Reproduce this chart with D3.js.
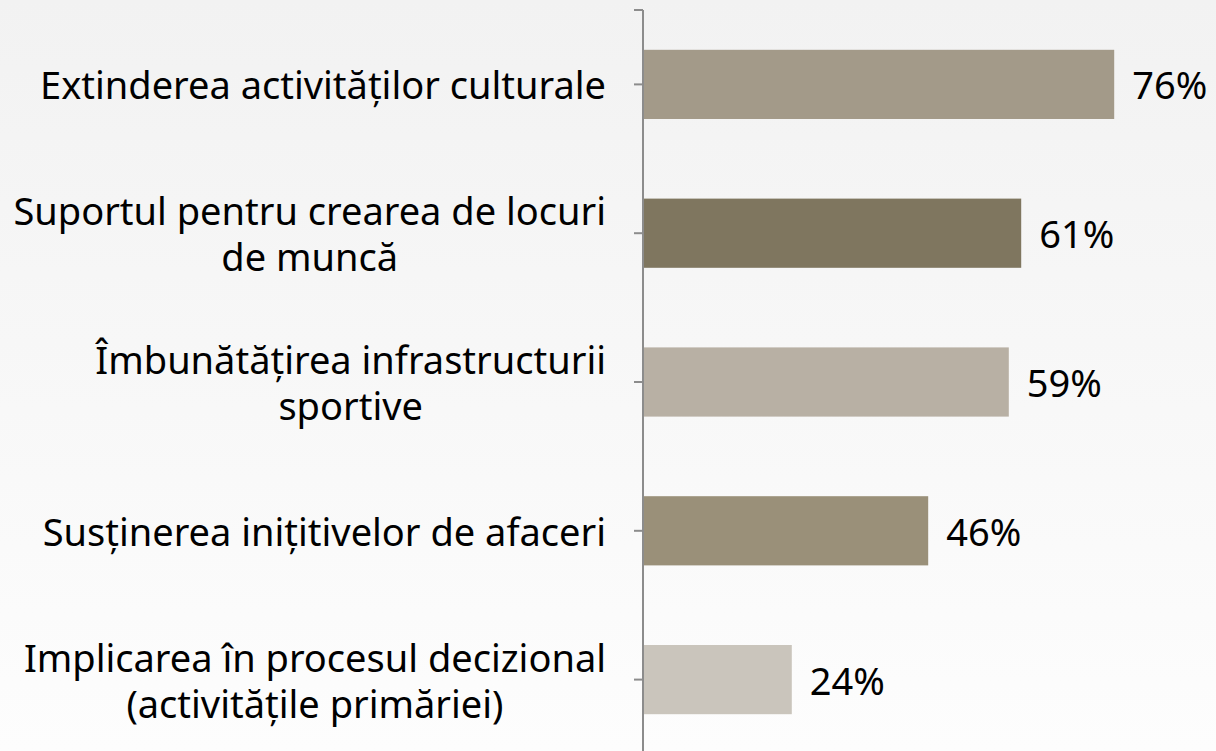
<!DOCTYPE html>
<html>
<head>
<meta charset="utf-8">
<script src="https://cdn.jsdelivr.net/npm/d3@7"></script>
<style>
	html, body { margin: 0; padding: 0; }
	body { width: 1216px; height: 751px; overflow: hidden; }
	text { font-family: "Noto Sans", "Open Sans", sans-serif; fill: #000; }
</style>
</head>
<body>
<div id="chart"></div>
<script>
'use strict';

// ---------- data ----------
const categories = [
	["Extinderea activităților culturale"],
	["Suportul pentru crearea de locuri", "de muncă"],
	["Îmbunătățirea infrastructurii", "sportive"],
	["Susținerea inițitivelor de afaceri"],
	["Implicarea în procesul decizional", "(activitățile primăriei)"]
];
const values     = [76, 61, 59, 46, 24];
const barColors  = ["#a39a89", "#7f765f", "#b8b0a4", "#9a9079", "#cac5bc"];


const drawChart = () =>
{
	const W = 1216, H = 751;
	const axisX = 643;

	const svg = d3.select("#chart")
		.append("svg")
		.attr("width", W)
		.attr("height", H);

	const grad = svg.append("defs").append("linearGradient")
		.attr("id", "bg")
		.attr("x1", 0).attr("y1", 0).attr("x2", 0).attr("y2", 1);
	grad.append("stop").attr("offset", "0%").attr("stop-color", "#f2f2f2");
	grad.append("stop").attr("offset", "100%").attr("stop-color", "#fdfdfd");

	svg.append("rect")
		.attr("width", W).attr("height", H)
		.attr("fill", "url(#bg)");

	const ids = categories.map((c, i) => i);
	const y = d3.scaleBand().domain(ids).range([10, 754]).paddingInner(0.535).paddingOuter(0.2675);
	const x = d3.scaleLinear().domain([0, 100]).range([axisX, axisX + 620]);

	// bars
	svg.selectAll(".bar")
		.data(values)
		.enter()
			.append("rect")
			.attr("class", "bar")
			.attr("x", x(0))
			.attr("y", (d, i) => y(i))
			.attr("width", d => x(d) - x(0))
			.attr("height", y.bandwidth())
			.attr("fill", (d, i) => barColors[i]);

	// axis line + ticks at category centers
	const axis = svg.append("g");
	axis.append("line")
		.attr("x1", axisX).attr("x2", axisX)
		.attr("y1", 10).attr("y2", H + 5)
		.attr("stroke", "#8c8c8c").attr("stroke-width", 2);
	axis.append("line")
		.attr("x1", axisX - 9).attr("x2", axisX)
		.attr("y1", 10).attr("y2", 10)
		.attr("stroke", "#8c8c8c").attr("stroke-width", 2);
	axis.selectAll(".tick")
		.data(ids)
		.enter()
			.append("line")
			.attr("x1", axisX - 9).attr("x2", axisX)
			.attr("y1", i => y(i) + y.bandwidth() / 2)
			.attr("y2", i => y(i) + y.bandwidth() / 2)
			.attr("stroke", "#8c8c8c").attr("stroke-width", 2);

	// category labels: one text per category, lines as tspans, block centred
	const right = 606, lineH = 46, fs = 38;
	categories.forEach((lines, i) =>
	{
		const cy = y(i) + y.bandwidth() / 2;
		const txt = svg.append("text")
			.attr("font-size", fs)
			.attr("text-anchor", "middle")
			.attr("dominant-baseline", "central");
		const spans = lines.map((ln, k) => txt.append("tspan")
			.attr("y", cy + (k - (lines.length - 1) / 2) * lineH)
			.text(ln));
		const wMax = d3.max(spans, s => s.node().getComputedTextLength());
		spans.forEach(s => s.attr("x", right - wMax / 2));
	});

	// value labels
	svg.selectAll(".val")
		.data(values)
		.enter()
			.append("text")
			.attr("class", "val")
			.attr("font-size", fs)
			.attr("x", d => x(d) + 18)
			.attr("y", (d, i) => y(i) + y.bandwidth() / 2)
			.attr("dominant-baseline", "central")
			.text(d => d + "%");
};

document.addEventListener("DOMContentLoaded", drawChart, false);
</script>
</body>
</html>
